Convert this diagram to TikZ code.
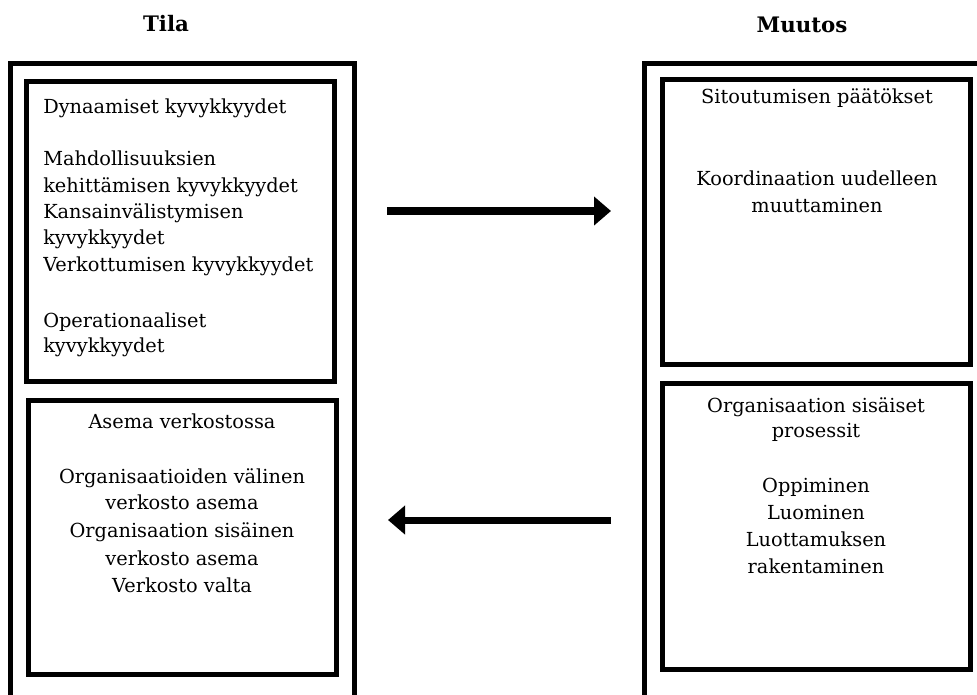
\documentclass[tikz,border=0pt]{standalone}
\usepackage{fontspec}
\setmainfont{DejaVu Serif}
\usetikzlibrary{arrows.meta,fit}
\tikzset{
  panel/.style={draw, line width=3.75pt, inner sep=0pt},
  txt/.style={inner sep=0pt, font=\fontsize{14.5}{20}\selectfont},
  lefttxt/.style={txt, anchor=base west},
  midtxt/.style={txt, anchor=base},
  heading/.style={inner sep=0pt, anchor=base, font=\fontsize{16}{19}\selectfont\bfseries},
  flow/.style={-{Triangle[length=12.75pt,width=21pt]}},
}
\begin{document}
\begin{tikzpicture}[x=0.75pt,y=-0.75pt]
\useasboundingbox (0,0) rectangle (977,694);
\clip (0,0) rectangle (977,694);

% column headings
\node[heading] (tila) at (166,31) {Tila};
\node[heading] (muutos) at (802,32) {Muutos};

% outer frames (open towards the page edges)
\node[panel, fit={(10.5,63.5) (354,740)}] (stateframe) {};
\node[panel, fit={(644.5,63.5) (1000,740)}] (changeframe) {};

% inner panels
\node[panel, fit={(26.5,81.5) (334.5,381.5)}] (capab) {};
\node[panel, fit={(28.5,400) (336.5,674.5)}] (netpos) {};
\node[panel, fit={(662,79) (970.5,364)}] (commit) {};
\node[panel, fit={(662,383.5) (970.5,669.5)}] (process) {};

% capabilities text
\foreach \y/\t [count=\i] in {113/Dynaamiset kyvykkyydet,
  165/Mahdollisuuksien, 192/kehittämisen kyvykkyydet,
  218/Kansainvälistymisen, 244/kyvykkyydet,
  271/Verkottumisen kyvykkyydet,
  327/Operationaaliset, 352/kyvykkyydet}
  \node[lefttxt] (cap-\i) at (43,\y) {\t};

% network position text
\foreach \y/\t [count=\i] in {428/Asema verkostossa,
  483/Organisaatioiden välinen, 509/verkosto asema,
  537/Organisaation sisäinen, 565/verkosto asema,
  592/Verkosto valta}
  \node[midtxt] (net-\i) at (182,\y) {\t};

% commitment decisions text
\foreach \y/\t [count=\i] in {103/Sitoutumisen päätökset,
  185/Koordinaation uudelleen, 212/muuttaminen}
  \node[midtxt] (com-\i) at (817,\y) {\t};

% internal processes text
\foreach \y/\t [count=\i] in {412/Organisaation sisäiset, 437/prosessit,
  492/Oppiminen, 519/Luominen, 546/Luottamuksen, 573/rakentaminen}
  \node[midtxt] (proc-\i) at (816,\y) {\t};

% arrows between the columns
\coordinate (fwdS) at (387,211);
\coordinate (fwdE) at (611,211);
\coordinate (backS) at (611,520);
\coordinate (backE) at (388,520);
\draw[flow, line width=6pt] (fwdS) -- (fwdE);
\draw[flow, line width=5.25pt] (backS) -- (backE);
\end{tikzpicture}
\end{document}
